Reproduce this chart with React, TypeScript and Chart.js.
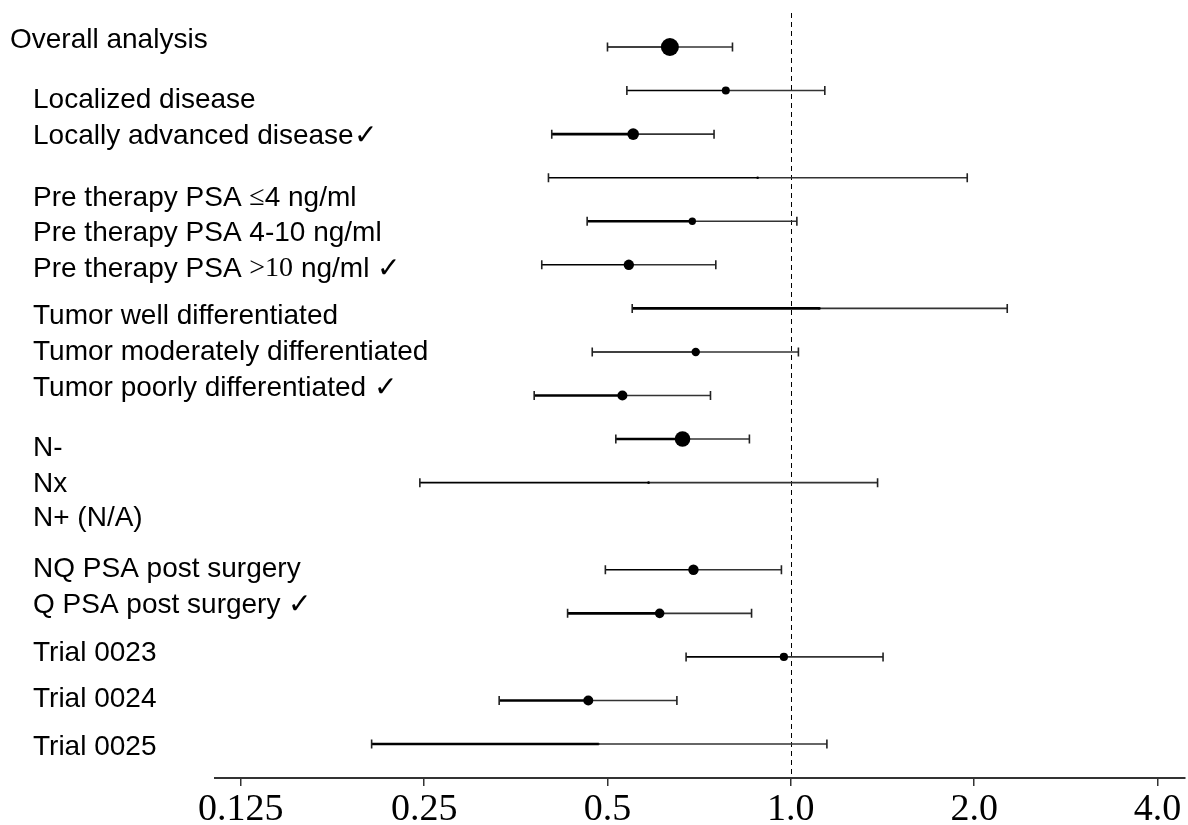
import React, { useEffect, useRef } from "react";
import { Chart, registerables } from "chart.js";

Chart.register(...registerables);

// Row labels ([...] = serif-set symbol run)
const LABELS: string[] = [
  "Overall analysis",
  "Localized disease",
  "Locally advanced disease✓",
  "Pre therapy PSA [≤]4 ng/ml",
  "Pre therapy PSA 4-10 ng/ml",
  "Pre therapy PSA [>10] ng/ml ✓",
  "Tumor well differentiated",
  "Tumor moderately differentiated",
  "Tumor poorly differentiated ✓",
  "N-",
  "Nx",
  "N+ (N/A)",
  "NQ PSA post surgery",
  "Q PSA post surgery ✓",
  "Trial 0023",
  "Trial 0024",
  "Trial 0025",
];

// Hazard ratio estimates and 95% CI
const ESTIMATE: (number | null)[] = [0.633, 0.782, 0.551, 0.882, 0.689, 0.542, 1.114, 0.698, 0.529, 0.664, 0.584, null, 0.692, 0.609, 0.974, 0.465, 0.484];
const LOWER: (number | null)[] = [0.5, 0.538, 0.405, 0.4, 0.463, 0.39, 0.549, 0.472, 0.379, 0.516, 0.246, null, 0.496, 0.43, 0.673, 0.332, 0.205];
const UPPER: (number | null)[] = [0.802, 1.137, 0.748, 1.948, 1.023, 0.753, 2.266, 1.029, 0.738, 0.855, 1.388, null, 0.965, 0.862, 1.417, 0.65, 1.146];
// Marker size (study weight)
const WEIGHT: number[] = [9, 4, 5.8, 1.3, 3.7, 5.2, 1.3, 4.2, 5, 7.8, 1.3, 0, 5.2, 4.8, 4.1, 5, 0.8];

const TICK_VALUES: number[] = [0.125, 0.25, 0.5, 1, 2, 4];
const TICK_LABELS: string[] = ["0.125", "0.25", "0.5", "1.0", "2.0", "4.0"];

// Layout (not data)
const LABEL_ROW_POS: number[] = [-0.207, 1.182, 2.009, 3.42, 4.224, 5.05, 6.141, 6.956, 7.794, 9.159, 9.997, 10.782, 11.937, 12.763, 13.865, 14.921, 16.023];
const LEFT_BOLD: boolean[] = [false, false, true, false, true, false, true, false, true, true, false, false, false, true, false, true, true];

const SANS = '"Liberation Sans", Arial, sans-serif';
const SERIF = '"Liberation Serif", "Times New Roman", serif';

const forestPlugin = {
  id: "forest",
  beforeDatasetsDraw(chart: any) {
    const { ctx, chartArea, scales } = chart;
    const xs = scales.x;
    const ys = scales.y;
    ctx.save();
    // reference line at 1.0
    const x1 = xs.getPixelForValue(1);
    ctx.strokeStyle = "#000";
    ctx.lineWidth = 1;
    ctx.setLineDash([5, 4]);
    ctx.beginPath();
    ctx.moveTo(Math.round(x1) + 0.5, chartArea.top);
    ctx.lineTo(Math.round(x1) + 0.5, chartArea.bottom);
    ctx.stroke();
    ctx.setLineDash([]);

    for (let i = 0; i < ESTIMATE.length; i++) {
      const est = ESTIMATE[i];
      const lo = LOWER[i];
      const hi = UPPER[i];
      if (est == null || lo == null || hi == null) continue;
      const y = ys.getPixelForValue(i);
      const xl = xs.getPixelForValue(lo);
      const xe = xs.getPixelForValue(est);
      const xh = xs.getPixelForValue(hi);
      // left part
      ctx.strokeStyle = "#000";
      ctx.lineWidth = LEFT_BOLD[i] ? 2.6 : 1.6;
      ctx.beginPath();
      ctx.moveTo(xl, y);
      ctx.lineTo(xe, y);
      ctx.stroke();
      // right part
      ctx.strokeStyle = "#333";
      ctx.lineWidth = 1.6;
      ctx.beginPath();
      ctx.moveTo(xe, y);
      ctx.lineTo(xh, y);
      ctx.stroke();
      // caps
      ctx.strokeStyle = "#222";
      ctx.lineWidth = 1.6;
      ctx.beginPath();
      ctx.moveTo(xl, y - 4.5);
      ctx.lineTo(xl, y + 4.5);
      ctx.moveTo(xh, y - 4.5);
      ctx.lineTo(xh, y + 4.5);
      ctx.stroke();
    }
    ctx.restore();
  },
  afterDraw(chart: any) {
    const { ctx, scales } = chart;
    const ys = scales.y;
    ctx.save();
    ctx.fillStyle = "#000";
    ctx.textBaseline = "middle";
    ctx.textAlign = "left";
    for (let i = 0; i < LABELS.length; i++) {
      const y = ys.getPixelForValue(LABEL_ROW_POS[i]) + 2;
      let x = i === 0 ? 10 : 33;
      const parts = LABELS[i].split(/(\[[^\]]*\])/).filter((p) => p.length > 0);
      for (const p of parts) {
        const serif = p.startsWith("[") && p.endsWith("]");
        const txt = serif ? p.slice(1, -1) : p;
        ctx.font = serif ? `28px ${SERIF}` : `28px ${SANS}`;
        ctx.fillText(txt, x, y);
        x += ctx.measureText(txt).width;
      }
    }
    ctx.restore();
  },
};

export default function App() {
  const canvasRef = useRef<HTMLCanvasElement | null>(null);

  useEffect(() => {
    document.body.style.margin = "0";
    const canvas = canvasRef.current;
    if (!canvas) return;
    const points = ESTIMATE.map((v, i) => (v == null ? null : { x: v, y: i })).filter((p) => p !== null);
    const radii = ESTIMATE.map((v, i) => (v == null ? null : WEIGHT[i])).filter((r) => r !== null);

    const chart = new Chart(canvas, {
      type: "scatter",
      data: {
        datasets: [
          {
            data: points as any,
            pointRadius: radii as any,
            pointHoverRadius: radii as any,
            pointBackgroundColor: "#000",
            pointBorderWidth: 0,
            borderColor: "#000",
            showLine: false,
          },
        ],
      },
      options: {
        responsive: false,
        animation: false,
        events: [],
        layout: { autoPadding: false, padding: { top: 13, left: 215, right: 3, bottom: 0 } },
        plugins: {
          legend: { display: false },
          tooltip: { enabled: false },
        },
        scales: {
          x: {
            type: "logarithmic",
            min: 0.1134,
            max: 4.437,
            afterBuildTicks(scale: any) {
              scale.ticks = TICK_VALUES.map((v) => ({ value: v }));
            },
            afterFit(scale: any) {
              scale.height = 47;
              scale.paddingLeft = 0;
              scale.paddingRight = 0;
            },
            ticks: {
              autoSkip: false,
              maxRotation: 0,
              minRotation: 0,
              padding: 1,
              color: "#000",
              font: { family: SERIF, size: 38 },
              callback(value: any) {
                const idx = TICK_VALUES.indexOf(Number(value));
                return idx >= 0 ? TICK_LABELS[idx] : "";
              },
            },
            grid: {
              drawOnChartArea: false,
              drawTicks: true,
              tickLength: 8,
              color: "#333",
              lineWidth: 1.5,
            },
            border: { display: true, color: "#333", width: 2 },
          },
          y: {
            type: "linear",
            display: false,
            reverse: true,
            min: -0.7805,
            max: 16.78,
          },
        },
      },
      plugins: [forestPlugin],
    });
    return () => chart.destroy();
  }, []);

  return (
    <div style={{ width: 1188, height: 825 }}>
      <canvas ref={canvasRef} width={1188} height={825} />
    </div>
  );
}
